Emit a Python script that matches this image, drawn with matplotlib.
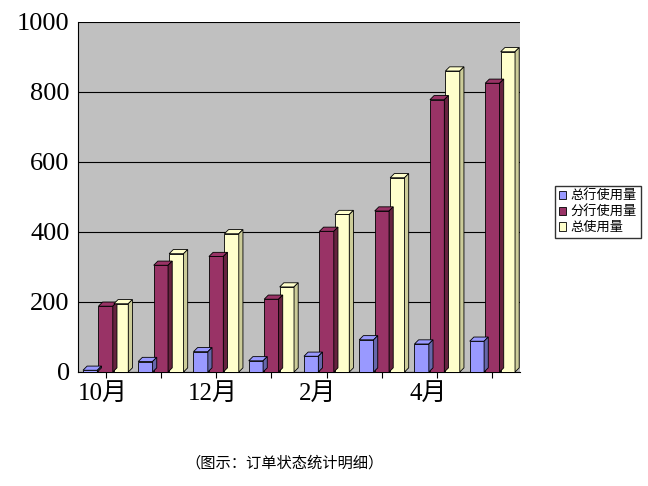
import matplotlib
matplotlib.use("Agg")
import matplotlib.pyplot as plt
from matplotlib.patches import Polygon
import matplotlib.transforms as mtransforms
import numpy as np

months = ["10月", "11月", "12月", "1月", "2月", "3月", "4月", "5月"]
tick_labels = ["10月", "", "12月", "", "2月", "", "4月", ""]
series_names = ["总行使用量", "分行使用量", "总使用量"]
head = [5, 30, 58, 32, 45, 92, 80, 88]
branch = [188, 305, 330, 208, 402, 460, 778, 825]
total = [195, 338, 395, 243, 450, 555, 860, 915]
colors = ["#9999ff", "#993366", "#ffffcc"]
sides = ["#6666aa", "#66223f", "#cccc99"]

plt.rcParams['font.family'] = ['Liberation Serif', 'Noto Sans CJK SC', 'DejaVu Sans']
fig = plt.figure(figsize=(6.48, 4.86), dpi=100)
ax = fig.add_axes([78/648, 1-372/486, (520-78)/648, 350/486])
ax.set_facecolor("#c0c0c0")
ax.set_xlim(-0.5, 7.5)
ax.set_ylim(0, 1000)
ax.set_yticks(range(0, 1001, 200))
ax.yaxis.grid(True, color="black", lw=0.8)
ax.set_axisbelow(True)
ax.tick_params(axis='y', labelsize=19, length=0, pad=6)
ax.tick_params(axis='x', labelsize=18, length=4)
ax.set_xticks(np.arange(8))
ax.set_xticklabels(tick_labels)
off = mtransforms.ScaledTranslation(-20/72, 0, fig.dpi_scale_trans)
for lbl in ax.get_xticklabels():
    lbl.set_ha('left')
    lbl.set_transform(lbl.get_transform() + off)

dx, dy = 3/72, 3/72
w = 0.26
for si, vals in enumerate([head, branch, total]):
    xs = np.arange(8) + (si - 1) * 0.28
    ax.bar(xs, vals, w, color=colors[si], edgecolor="black", lw=0.6, zorder=3)
    for x, v in zip(xs, vals):
        x0, x1 = x - w/2, x + w/2
        tr = ax.transData
        def pt(px, py, shift):
            p = tr.transform((px, py))
            return p + (np.array([dx, dy]) * fig.dpi if shift else 0)
        top = [pt(x0, v, 0), pt(x1, v, 0), pt(x1, v, 1), pt(x0, v, 1)]
        side = [pt(x1, 0, 0), pt(x1, v, 0), pt(x1, v, 1), pt(x1, 0, 1)]
        for poly, c in [(top, colors[si]), (side, sides[si])]:
            ax.add_patch(Polygon(poly, closed=True, transform=None, facecolor=c,
                                 edgecolor="black", lw=0.6, zorder=4, clip_on=False))

for s in ["top", "right"]:
    ax.spines[s].set_visible(False)

handles = [plt.Rectangle((0, 0), 1, 1, fc=c, ec="black", lw=0.6) for c in colors]
fig.legend(handles, series_names, loc="center left", bbox_to_anchor=(548/648, 1-212/486),
           frameon=True, fancybox=False, edgecolor="black",
           handlelength=0.6, handleheight=0.6, handletextpad=0.3, borderpad=0.3,
           labelspacing=0.2, prop={'family': ['Noto Sans CJK SC'], 'size': 9.5})
fig.text(285/648, 1-463/486, "（图示：订单状态统计明细）", ha="center", va="center",
         fontsize=11, family=['Noto Sans CJK SC'])
fig.savefig("out.png", dpi=100)
